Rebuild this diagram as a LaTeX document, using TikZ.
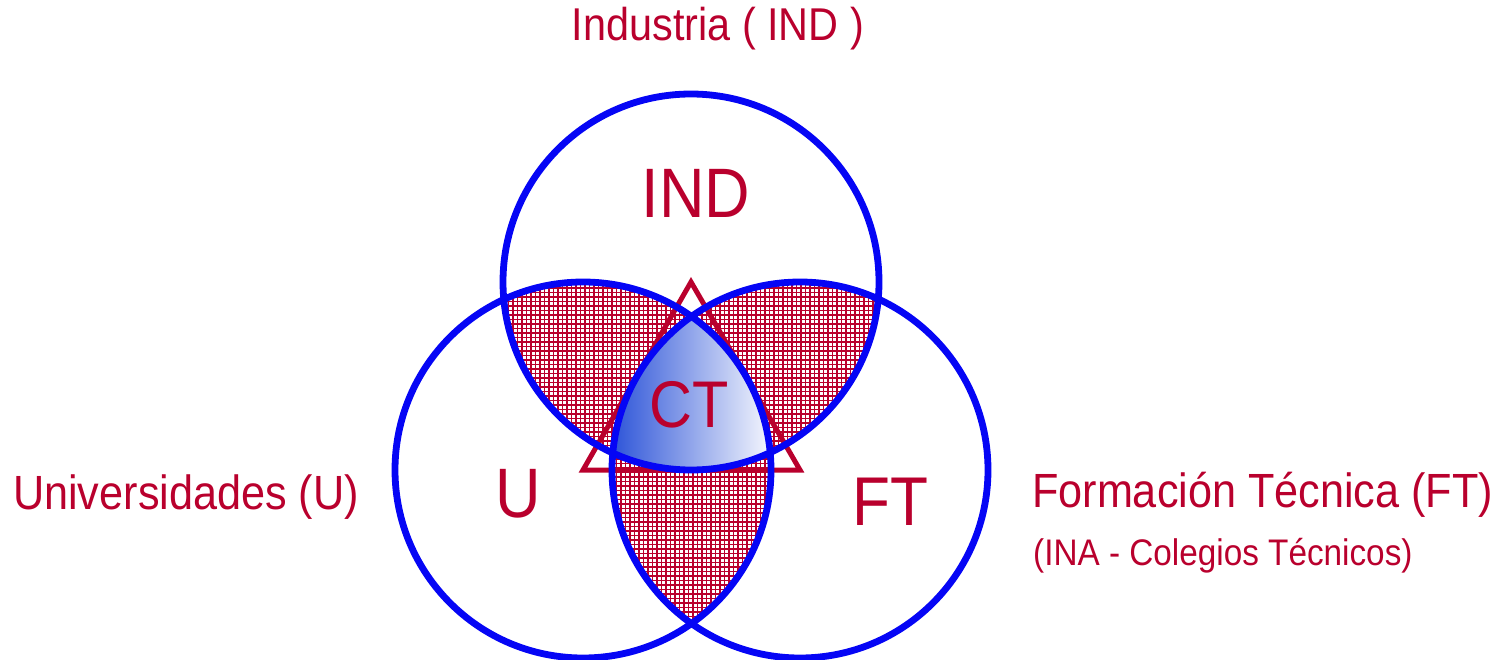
\documentclass[tikz,border=0pt]{standalone}
\usepackage{fontspec}
\setmainfont{Liberation Sans}[FakeStretch=0.9]
\definecolor{vred}{RGB}{185,0,45}
\definecolor{vblue}{RGB}{5,5,245}
\definecolor{ctblue}{RGB}{40,80,215}
\tikzset{
  ring/.style={draw=vblue,line width=6.8pt},
  hatch/.style={draw=vred,line width=1.5pt,step=4.5pt},
  tri/.style={draw=vred,line width=5pt,line join=miter},
  lbl/.style={text=vred,inner sep=0pt},
  bigl/.style={lbl,anchor=base,font=\fontsize{70}{80}\selectfont},
  sidel/.style={lbl,anchor=base west,font=\fontsize{48}{56}\selectfont},
}
\begin{document}
\begin{tikzpicture}[x=1pt,y=-1pt]
\useasboundingbox (0,0) rectangle (1510,660);
\coordinate (T) at (691,282);
\coordinate (L) at (583,470);
\coordinate (R) at (800,470);
% pairwise hatched regions
\begin{scope}
  \clip (T) circle[radius=188pt];
  \clip (L) circle[radius=188pt];
  \draw[hatch] (380,660) grid (1000,80);
\end{scope}
\begin{scope}
  \clip (T) circle[radius=188pt];
  \clip (R) circle[radius=188pt];
  \draw[hatch] (380,660) grid (1000,80);
\end{scope}
\begin{scope}
  \clip (L) circle[radius=188pt];
  \clip (R) circle[radius=188pt];
  \draw[hatch] (380,660) grid (1000,80);
\end{scope}
% central region
\begin{scope}
  \clip (T) circle[radius=188pt];
  \clip (L) circle[radius=188pt];
  \clip (R) circle[radius=188pt];
  \shade[left color=ctblue,right color=white] (608,300) rectangle (778,475);
\end{scope}
% triangle
\draw[tri] (T) -- (L) -- (R) -- cycle;
% circles
\draw[ring] (T) circle[radius=188pt];
\draw[ring] (L) circle[radius=188pt];
\draw[ring] (R) circle[radius=188pt];
% labels
\node[lbl,anchor=base,font=\fontsize{46}{52}\selectfont] (tind) at (718,41) {Industria ( IND )};
\node[bigl] (ind) at (696,218) {IND};
\node[bigl,font=\fontsize{66}{76}\selectfont] (ct) at (689,427) {CT};
\node[bigl] (u) at (518,517) {U};
\node[bigl,font=\fontsize{69}{78}\selectfont] (ft) at (890,525) {FT};
\node[sidel] (tu) at (13,509) {Universidades (U)};
\node[sidel] (tft) at (1032,507) {Formación Técnica (FT)};
\node[lbl,anchor=base west,font=\fontsize{37}{44}\selectfont] (tina) at (1033,565) {(INA - Colegios Técnicos)};
\end{tikzpicture}
\end{document}
